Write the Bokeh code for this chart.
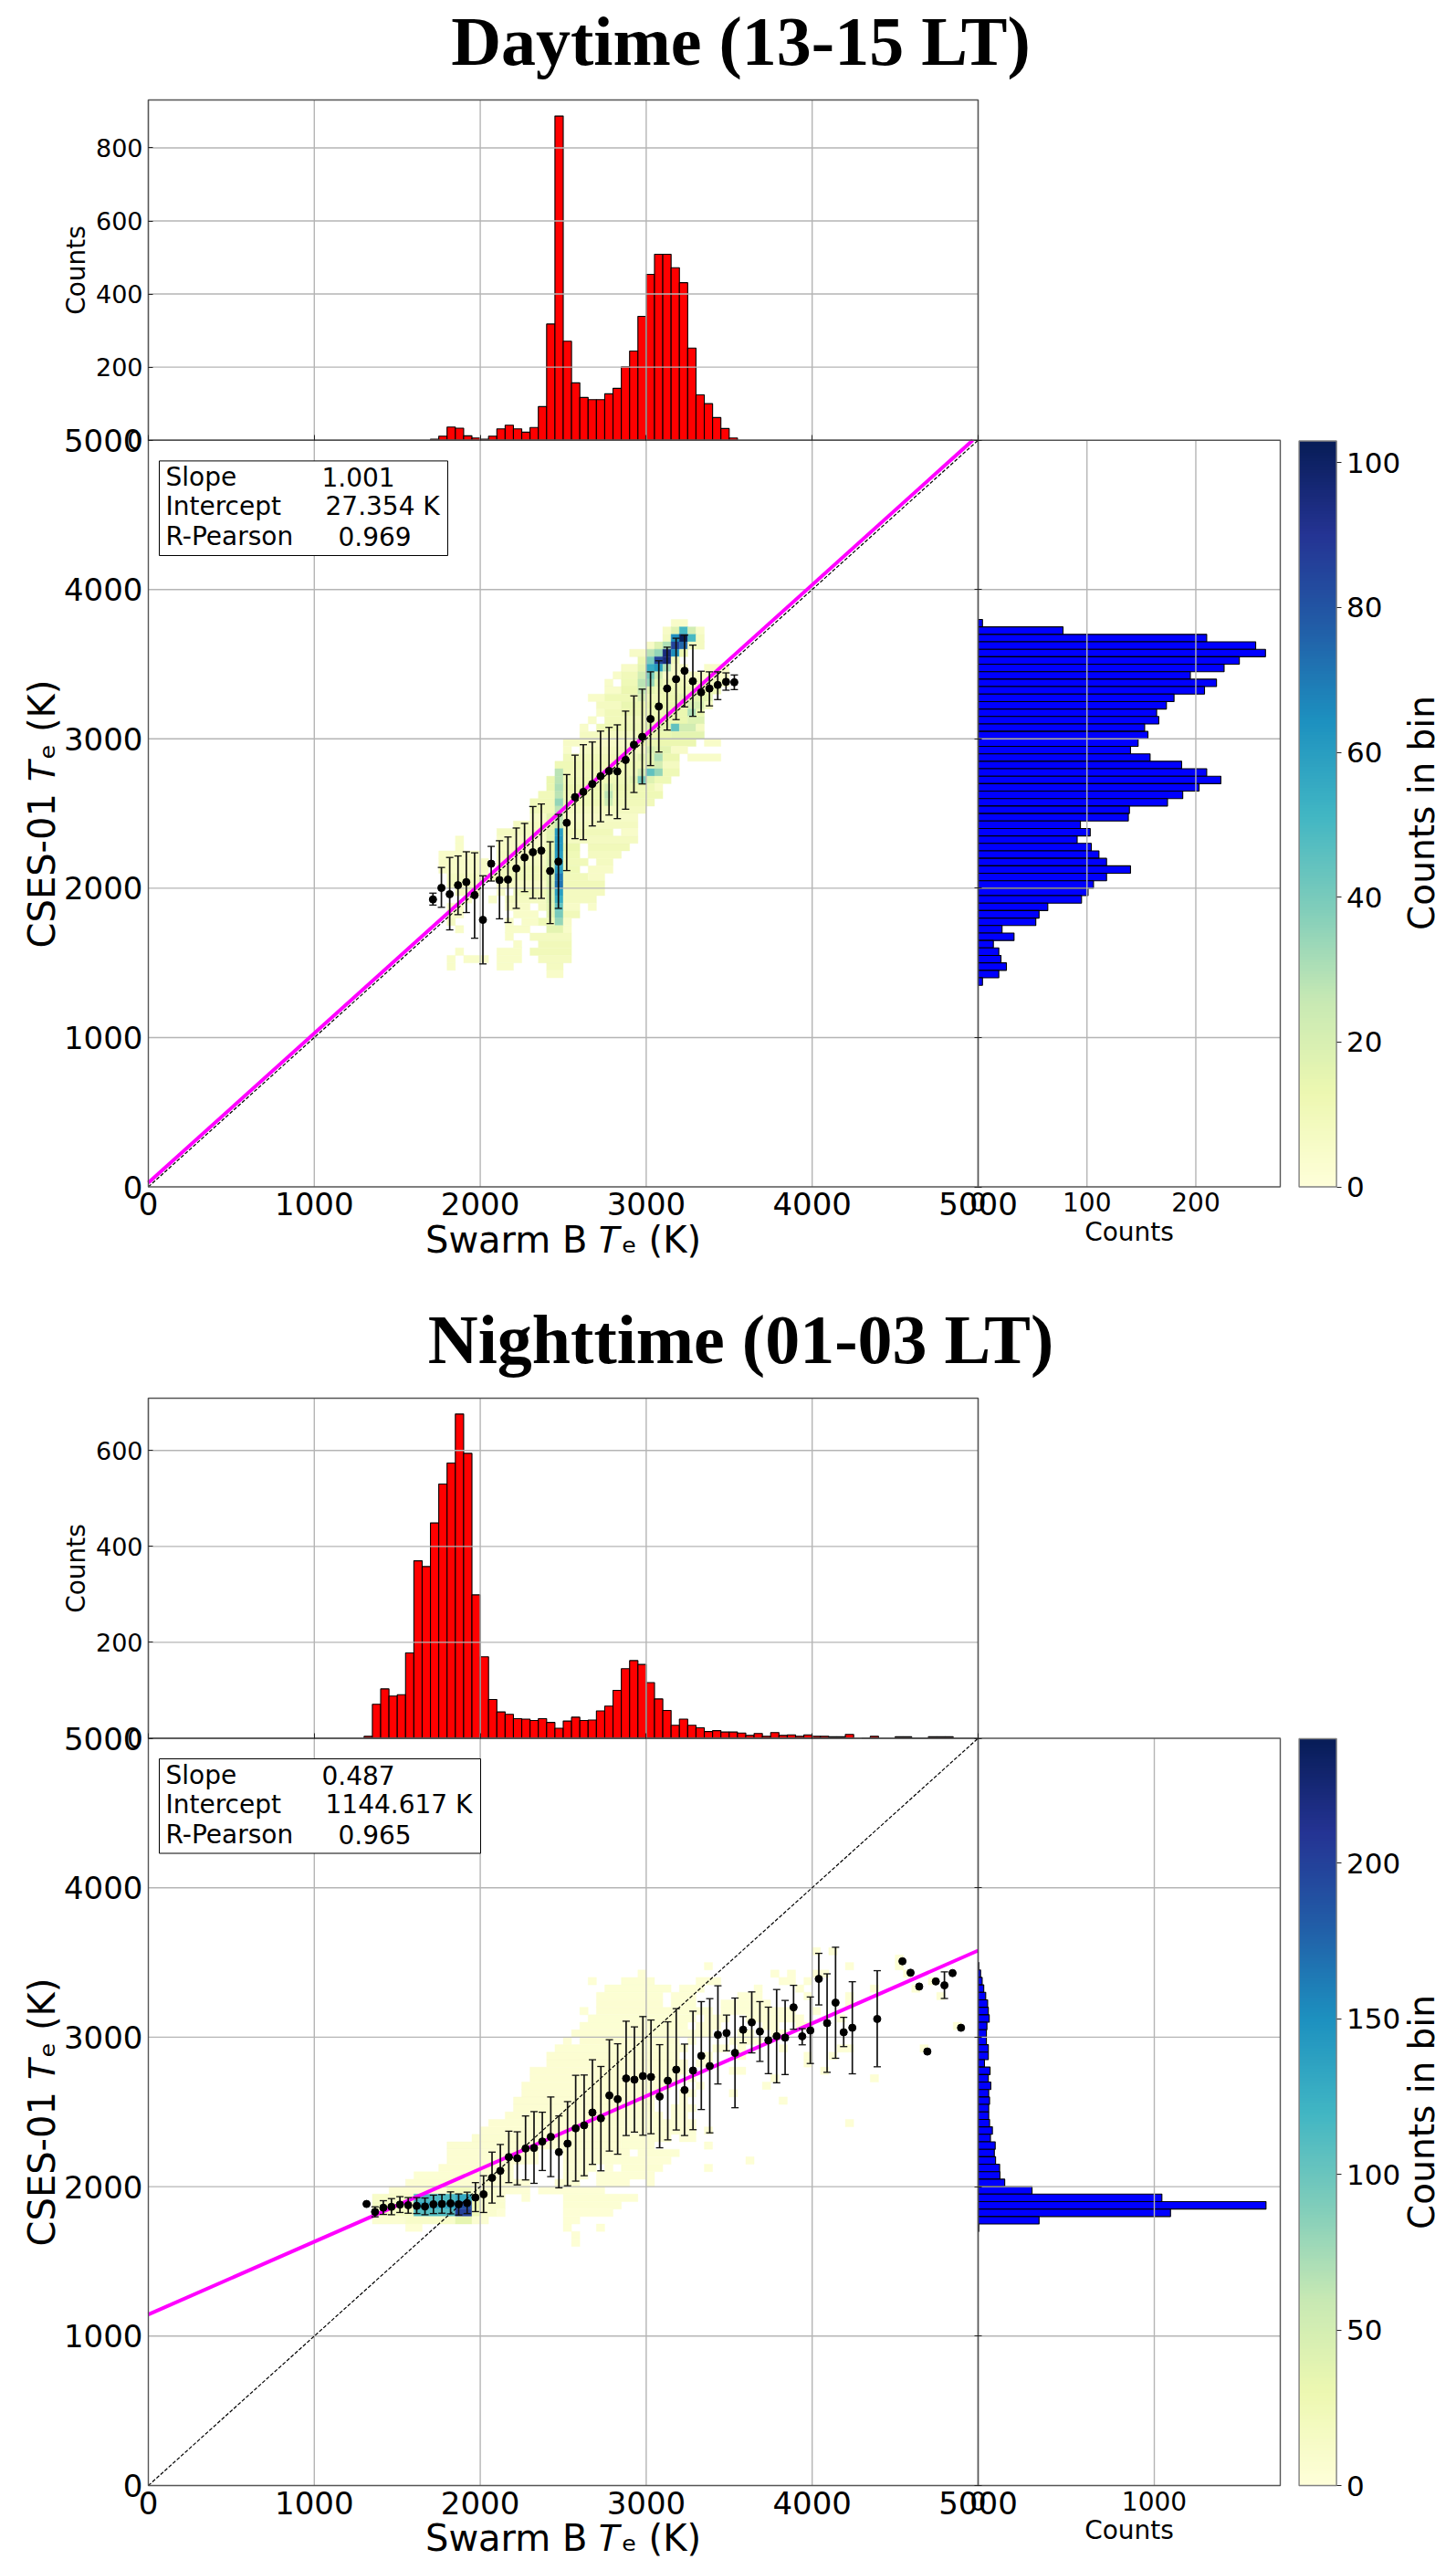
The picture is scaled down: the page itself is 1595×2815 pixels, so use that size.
from bokeh.embed import file_html
from bokeh.resources import INLINE
from bokeh.plotting import figure
from bokeh.core.properties import value
from bokeh.models import Range1d, LinearAxis, FixedTicker, ColorBar, LinearColorMapper, ColumnDataSource
from bokeh.palettes import YlGnBu9, interp_palette

# ---------- DATA ----------
day_top_edges = [1700,1750,1800,1850,1900,1950,2000,2050,2100,2150,2200,2250,2300,2350,2400,2450,2500,2550,2600,2650,2700,2750,2800,2850,2900,2950,3000,3050,3100,3150,3200,3250,3300,3350,3400,3450,3500]
day_top_counts = [3,11,36,33,12,6,3,11,31,41,31,22,35,92,318,887,271,157,117,111,111,127,142,201,244,339,454,509,509,472,431,252,124,100,62,32,6]
day_right_edges = [3750,3700,3650,3600,3550,3500,3450,3400,3350,3300,3250,3200,3150,3100,3050,3000,2950,2900,2850,2800,2750,2700,2650,2600,2550,2500,2450,2400,2350,2300,2250,2200,2150,2100,2050,2000,1950,1900,1850,1800,1750,1700,1650,1600,1550,1500,1450,1400,1350]
day_right_counts = [4,78,210,255,264,240,226,195,219,208,180,173,164,166,153,156,147,140,158,187,210,223,203,188,174,139,138,94,103,91,104,111,118,140,118,106,101,95,64,56,53,22,33,14,19,21,26,19,4]
night_top_edges = [1300,1350,1400,1450,1500,1550,1600,1650,1700,1750,1800,1850,1900,1950,2000,2050,2100,2150,2200,2250,2300,2350,2400,2450,2500,2550,2600,2650,2700,2750,2800,2850,2900,2950,3000,3050,3100,3150,3200,3250,3300,3350,3400,3450,3500,3550,3600,3650,3700,3750,3800,3850,3900,3950,4000,4050,4100,4150,4200,4300,4350,4500,4550,4600,4650,4700,4750,4800]
night_top_counts = [4,71,103,88,91,178,370,358,449,530,574,676,594,299,170,81,55,50,41,40,37,41,33,21,36,44,37,38,57,67,100,145,162,154,116,82,58,27,40,27,22,14,16,13,13,11,6,10,4,12,6,7,4,7,4,4,3,3,8,1,4,3,3,1,1,3,3,3]
night_right_edges = [3450,3400,3350,3300,3250,3200,3150,3100,3050,3000,2950,2900,2850,2800,2750,2700,2650,2600,2550,2500,2450,2400,2350,2300,2250,2200,2150,2100,2050,2000,1950,1900,1850,1800,1750,1700]
night_right_counts = [4,14,23,32,43,54,58,63,50,47,47,58,58,36,68,58,72,60,65,60,60,65,81,70,97,92,99,122,124,151,306,1043,1634,1092,346,4]

day_mean_x = [1715,1766,1816,1866,1916,1966,2016,2066,2116,2167,2217,2267,2317,2368,2421,2471,2521,2571,2621,2675,2725,2776,2826,2876,2926,2976,3026,3076,3126,3180,3231,3281,3331,3381,3431,3481,3531]
day_mean_y = [1925,2002,1960,2020,2041,1953,1788,2164,2055,2058,2132,2206,2241,2252,2115,2178,2438,2610,2645,2698,2750,2785,2782,2859,2961,3014,3133,3217,3337,3400,3456,3386,3312,3337,3361,3382,3379]
day_err_hi = [1967,2139,2206,2216,2244,2237,2083,2280,2318,2343,2403,2434,2547,2564,2311,2494,2761,2891,2961,2979,3052,3077,3094,3186,3288,3333,3449,3523,3614,3674,3695,3628,3453,3449,3449,3442,3428]
day_err_lo = [1887,1872,1721,1823,1837,1665,1493,2048,1795,1770,1865,1977,1932,1932,1763,1865,2118,2332,2325,2417,2445,2490,2466,2529,2641,2698,2821,2912,3059,3129,3214,3151,3179,3221,3263,3326,3330]

night_mean_x = [1315,1366,1416,1465,1516,1566,1617,1667,1718,1769,1821,1870,1921,1971,2020,2071,2121,2172,2223,2273,2324,2374,2425,2474,2526,2575,2626,2676,2727,2778,2828,2879,2929,2980,3029,3081,3130,3181,3231,3282,3332,3383,3432,3484,3535,3584,3636,3685,3736,3786,3837,3888,3940,3989,4040,4090,4141,4190,4242,4392,4544,4593,4645,4694,4745,4797,4846,4897]
night_mean_y = [1884,1831,1859,1865,1880,1876,1871,1867,1882,1884,1888,1882,1890,1927,1949,2059,2106,2198,2190,2255,2259,2302,2333,2231,2288,2390,2410,2496,2457,2610,2585,2724,2716,2740,2734,2603,2709,2783,2646,2777,2875,2807,3016,3028,2895,3050,3099,3038,2979,3007,2997,3200,3006,3045,3390,3094,3231,3033,3063,3122,3508,3431,3339,2904,3373,3347,3429,3063]
night_bar_x = [1366,1416,1465,1516,1566,1617,1667,1718,1769,1821,1870,1921,1971,2020,2071,2121,2172,2223,2273,2324,2374,2425,2474,2526,2575,2626,2676,2727,2778,2828,2879,2929,2980,3029,3081,3130,3181,3231,3282,3332,3383,3432,3484,3535,3584,3636,3685,3736,3786,3837,3888,3940,3989,4040,4090,4141,4190,4242,4392,4797]
night_err_hi = [1865,1906,1920,1933,1927,1927,1924,1943,1947,1965,1951,1963,2027,2073,2231,2282,2371,2367,2473,2502,2498,2600,2473,2569,2745,2747,2849,2804,2983,2956,3107,3069,3138,3115,2950,3103,3191,2954,3174,3238,3258,3344,3148,3262,3138,3303,3238,3201,3319,3246,3347,3057,3269,3561,3424,3602,3133,3371,3445,3437]
night_err_lo = [1798,1814,1812,1827,1822,1820,1812,1820,1822,1818,1810,1820,1833,1827,1890,1935,2027,2012,2045,2022,2108,2067,1992,2006,2037,2073,2149,2106,2238,2217,2342,2365,2344,2354,2260,2313,2379,2342,2381,2516,2360,2687,2909,2528,2962,2895,2838,2756,2695,2750,3053,2949,2824,3216,2765,2859,2937,2755,2802,3259]

# heat cells: (CSES bin, Swarm start, Swarm end, count)
day_heat = [
(3750,3150,3250,5),
(3700,3100,3150,6),(3700,3150,3200,18),(3700,3200,3250,50),(3700,3250,3300,22),(3700,3300,3350,5),
(3650,3100,3150,8),(3650,3150,3200,65),(3650,3200,3250,103),(3650,3250,3300,50),(3650,3300,3350,8),
(3600,3000,3050,6),(3600,3050,3100,18),(3600,3100,3150,30),(3600,3150,3200,85),(3600,3200,3250,75),(3600,3250,3350,8),
(3550,2900,3000,6),(3550,3000,3050,28),(3550,3050,3100,35),(3550,3100,3150,95),(3550,3150,3200,65),(3550,3200,3250,13),
(3500,2950,3000,13),(3500,3000,3050,40),(3500,3050,3100,85),(3500,3100,3150,95),(3500,3150,3200,10),
(3450,2850,2950,6),(3450,2950,3000,16),(3450,3000,3050,55),(3450,3050,3100,60),(3450,3100,3150,30),(3450,3150,3250,6),(3450,3350,3500,5),
(3400,2800,2850,5),(3400,2850,2950,10),(3400,2950,3000,22),(3400,3000,3050,40),(3400,3050,3100,22),(3400,3100,3350,6),(3400,3350,3500,6),
(3350,2750,2800,5),(3350,2850,2950,11),(3350,2950,3000,28),(3350,3000,3050,35),(3350,3050,3100,16),(3350,3100,3250,10),(3350,3250,3500,8),
(3300,2750,2850,5),(3300,2850,2950,13),(3300,2950,3000,26),(3300,3000,3050,16),(3300,3050,3200,11),(3300,3200,3450,11),
(3250,2650,2750,5),(3250,2750,2950,11),(3250,2950,3000,20),(3250,3000,3100,10),(3250,3100,3200,13),(3250,3200,3400,16),
(3200,2700,2850,8),(3200,2850,2950,14),(3200,2950,3050,13),(3200,3050,3250,14),(3200,3250,3350,20),(3200,3350,3400,8),
(3150,2700,2750,5),(3150,2750,2850,10),(3150,2850,3000,13),(3150,3000,3100,11),(3150,3100,3250,14),(3150,3250,3300,30),(3150,3300,3350,14),
(3100,2650,2700,5),(3100,2750,3000,10),(3100,3000,3250,14),(3100,3250,3350,18),
(3050,2600,2650,5),(3050,2700,3000,11),(3050,3000,3150,16),(3050,3150,3200,45),(3050,3200,3300,22),(3050,3300,3350,8),
(3000,2600,2950,8),(3000,2950,3150,13),(3000,3150,3350,16),
(2950,2500,2950,6),(2950,2950,3300,13),(2950,3350,3450,5),
(2900,2500,2550,5),(2900,2600,3000,8),(2900,3000,3050,20),(2900,3050,3150,16),(2900,3150,3250,6),
(2850,2500,2950,10),(2850,2950,3050,16),(2850,3050,3100,30),(2850,3100,3200,13),(2850,3250,3450,5),
(2800,2450,3000,11),(2800,3000,3050,16),(2800,3050,3100,22),(2800,3100,3200,8),
(2750,2450,2500,28),(2750,2500,2950,10),(2750,2950,3000,22),(2750,3000,3050,45),(2750,3050,3100,35),(2750,3100,3200,11),
(2700,2400,2450,13),(2700,2450,2500,28),(2700,2500,2900,11),(2700,2900,2950,16),(2700,2950,3000,40),(2700,3000,3050,18),(2700,3050,3150,11),
(2650,2400,2450,13),(2650,2450,2500,30),(2650,2500,2750,13),(2650,2750,2800,20),(2650,2800,2950,13),(2650,2950,3050,11),(2650,3050,3100,6),
(2600,2350,2450,10),(2600,2450,2500,28),(2600,2500,2750,11),(2600,2750,2800,28),(2600,2800,3100,11),
(2550,2300,2450,10),(2550,2450,2500,35),(2550,2500,2750,11),(2550,2750,2800,24),(2550,2800,3050,10),
(2500,2300,2450,10),(2500,2450,2500,28),(2500,2500,3000,8),
(2450,2300,2400,6),(2450,2400,2450,16),(2450,2450,2500,28),(2450,2500,2950,6),
(2400,2200,2400,8),(2400,2400,2450,16),(2400,2450,2500,26),(2400,2500,2950,8),
(2350,2100,2400,8),(2350,2400,2450,16),(2350,2450,2500,60),(2350,2500,2800,10),(2350,2850,2950,5),
(2300,1850,1900,5),(2300,2100,2400,6),(2300,2400,2450,16),(2300,2450,2500,62),(2300,2500,2950,8),
(2250,1850,1900,5),(2250,2100,2400,6),(2250,2400,2450,13),(2250,2450,2500,62),(2250,2500,2600,13),(2250,2650,2900,10),
(2200,1750,2000,5),(2200,2100,2400,8),(2200,2400,2450,16),(2200,2450,2500,60),(2200,2500,2600,11),(2200,2650,2850,8),
(2150,1750,2050,6),(2150,2100,2400,8),(2150,2400,2450,18),(2150,2450,2500,60),(2150,2500,2650,10),(2150,2700,2800,8),
(2100,1750,2050,6),(2100,2100,2400,10),(2100,2400,2450,18),(2100,2450,2500,60),(2100,2500,2600,11),(2100,2650,2800,6),
(2050,1800,2000,8),(2050,2000,2050,5),(2050,2050,2400,10),(2050,2400,2450,18),(2050,2450,2500,70),(2050,2500,2650,10),(2050,2650,2750,6),
(2000,1800,2000,8),(2000,2100,2400,6),(2000,2400,2450,18),(2000,2450,2500,72),(2000,2500,2750,10),
(1950,1850,2000,8),(1950,2100,2150,5),(1950,2200,2400,10),(1950,2400,2450,18),(1950,2450,2500,60),(1950,2500,2750,8),
(1900,1900,1950,5),(1900,2050,2100,5),(1900,2150,2400,8),(1900,2400,2450,18),(1900,2450,2500,55),(1900,2500,2700,8),
(1850,1800,1900,6),(1850,2150,2300,6),(1850,2350,2400,8),(1850,2400,2450,16),(1850,2450,2500,45),(1850,2500,2600,6),(1850,2650,2700,5),
(1800,1800,1900,5),(1800,2200,2350,5),(1800,2400,2450,16),(1800,2450,2500,40),(1800,2500,2600,10),
(1750,1800,1850,8),(1750,2150,2200,5),(1750,2250,2350,5),(1750,2350,2450,11),(1750,2450,2500,35),(1750,2500,2550,6),
(1700,1850,1900,5),(1700,2150,2300,5),(1700,2400,2500,16),(1700,2500,2550,5),
(1650,2150,2200,5),(1650,2300,2550,8),
(1600,2200,2250,5),(1600,2350,2550,10),
(1550,1850,1900,5),(1550,2100,2250,5),(1550,2300,2550,10),
(1500,1800,1850,5),(1500,1900,2050,5),(1500,2100,2250,5),(1500,2350,2550,8),
(1450,1800,1850,5),(1450,2100,2200,5),(1450,2400,2500,8),
(1400,2400,2500,5),
]

night_heat = [
(3550,4000,4050,3),(3550,4100,4150,3),
(3500,4500,4550,3),
(3450,3350,3400,3),(3450,4200,4250,3),(3450,4500,4550,3),
(3400,2950,3000,3),(3400,3750,3800,3),(3400,3850,3900,3),(3400,4000,4100,3),(3400,4550,4600,3),
(3350,2650,2700,3),(3350,2850,3050,4),(3350,3300,3450,3),(3350,3800,3900,3),(3350,3950,4000,3),(3350,4700,4750,3),
(3300,2750,3150,4),(3300,3200,3350,3),(3300,3650,3700,3),(3300,3900,3950,3),(3300,4350,4400,3),(3300,4600,4650,3),
(3250,2700,3100,4),(3250,3150,3300,3),(3250,3550,3700,3),(3250,3950,4000,3),(3250,4200,4250,3),(3250,4750,4800,3),
(3200,2700,3100,5),(3200,3150,3300,4),(3200,3450,3750,3),(3200,4200,4250,3),
(3150,2600,2650,3),(3150,2700,3150,5),(3150,3150,3400,4),(3150,3450,3900,3),(3150,4000,4050,3),
(3100,2650,3300,4),(3100,3350,3500,3),(3100,3600,3950,3),(3100,4150,4200,3),
(3050,2600,3250,4),(3050,3300,3450,3),(3050,3700,3800,3),(3050,3900,4000,3),(3050,4850,4900,3),
(3000,2550,3200,5),(3000,3200,3400,3),(3000,3550,3650,3),(3000,3750,3850,3),
(2950,2500,2550,3),(2950,2600,3200,5),(2950,3250,3300,3),(2950,3500,3700,3),
(2900,2450,3250,4),(2900,3400,3500,3),(2900,3550,3600,3),(2900,3800,3850,3),(2900,4150,4250,3),(2900,4650,4700,3),
(2850,2400,3200,5),(2850,3350,3400,3),(2850,3550,3600,3),(2850,3950,4000,3),(2850,4100,4150,3),
(2800,2400,3250,5),(2800,3300,3400,3),(2800,3950,4000,3),
(2750,2300,3250,5),(2750,3500,3600,3),(2750,4050,4100,3),
(2700,2300,3200,5),(2700,3250,3300,3),(2700,3750,3800,3),(2700,4350,4400,3),
(2650,2250,3150,5),(2650,3300,3350,3),(2650,3700,3750,3),
(2600,2250,3100,5),(2600,3200,3300,3),(2600,3500,3550,3),
(2550,2200,3050,5),(2550,3200,3250,3),(2550,3800,3850,3),
(2500,2200,3050,5),(2500,3150,3300,3),
(2450,2150,3000,5),(2450,3000,3100,3),(2450,3150,3250,3),
(2400,2050,3000,5),(2400,3000,3200,4),(2400,3200,3300,3),(2400,4200,4250,3),
(2350,2000,3050,5),(2350,3050,3300,4),(2350,3350,3400,3),
(2300,1950,2350,6),(2300,2350,2850,5),(2300,2850,3150,4),(2300,3200,3300,3),
(2250,1800,2350,6),(2250,2350,2500,3),(2250,2500,2850,5),(2250,2850,3050,4),(2250,3350,3400,3),
(2200,1800,2300,5),(2200,2300,2350,3),(2200,2500,2900,5),(2200,2950,3200,4),
(2150,1800,2250,5),(2150,2250,2350,3),(2150,2500,2750,5),(2150,2750,3000,4),(2150,3000,3150,3),(2150,3600,3650,3),
(2100,1750,2200,5),(2100,2500,2700,4),(2100,2750,2800,3),(2100,2850,3100,4),(2100,3350,3400,3),
(2050,1600,2200,4),(2050,2500,2650,4),(2050,2700,3050,3),
(2000,1550,2150,5),(2000,2150,2300,3),(2000,2450,2600,4),(2000,2700,2900,3),(2000,3000,3050,3),
(1950,1450,1800,5),(1950,1800,1950,20),(1950,1950,2100,8),(1950,2100,2300,3),(1950,2350,2750,3),
(1900,1350,1600,12),(1900,1600,1850,115),(1900,1850,1950,130),(1900,1950,2000,25),(1900,2000,2150,6),(1900,2250,2300,3),(1900,2500,2950,4),
(1850,1350,1600,15),(1850,1600,1850,130),(1850,1850,1950,190),(1850,1950,2000,30),(1850,2000,2150,8),(1850,2500,2850,4),
(1800,1350,1600,15),(1800,1600,1850,110),(1800,1850,1950,200),(1800,1950,2000,25),(1800,2000,2100,8),(1800,2100,2150,3),(1800,2500,2800,3),
(1750,1350,1550,6),(1750,1550,1850,12),(1750,1850,1950,35),(1750,1950,2050,6),(1750,2500,2600,3),
(1700,1550,1650,3),(1700,2500,2550,3),(1700,2700,2750,3),
(1650,2550,2600,3),
(1600,2550,2600,3),
]

day_title = "Daytime (13-15 LT)"
night_title = "Nighttime (01-03 LT)"
x_label = "Swarm B \U0001D447\u2091 (K)"
y_label = "CSES-01 \U0001D447\u2091 (K)"
counts_label = "Counts"
cbar_label = "Counts in bin"
te_ticks = [0, 1000, 2000, 3000, 4000, 5000]
stat_names = ["Slope", "Intercept", "R-Pearson"]
day_stats = ["1.001", "27.354 K", "0.969"]
night_stats = ["0.487", "1144.617 K", "0.965"]
day_fit = (1.001, 27.354)
night_fit = (0.487, 1144.617)
day_cfg = dict(title=day_title, top_e=day_top_edges, top_c=day_top_counts, right_e=day_right_edges, right_c=day_right_counts,
               mx=day_mean_x, my=day_mean_y, bx=day_mean_x, hi=day_err_hi, lo=day_err_lo, heat=day_heat, stats=day_stats, fit=day_fit,
               top_ticks=[0,200,400,600,800], right_ticks=[0,100,200], cb_ticks=[0,20,40,60,80,100],
               top_max=931, right_max=277.6, cb_max=103)
night_cfg = dict(title=night_title, top_e=night_top_edges, top_c=night_top_counts, right_e=night_right_edges, right_c=night_right_counts,
               mx=night_mean_x, my=night_mean_y, bx=night_bar_x, hi=night_err_hi, lo=night_err_lo, heat=night_heat, stats=night_stats, fit=night_fit,
               top_ticks=[0,200,400,600], right_ticks=[0,1000], cb_ticks=[0,50,100,150,200],
               top_max=709, right_max=1715, cb_max=240)

# ---------- LAYOUT ----------
PX_L, PX_M, PX_R = 162.0, 1071.0, 1402.0
CB_L, CB_R = 1422.6, 1464.0
W, H = 1595, 2815
palette = interp_palette(list(YlGnBu9)[::-1], 256)
GRID = "#b5b5b5"
SPINE = "#555555"
SANS = value("DejaVu Sans")

p = figure(width=W, height=H, output_backend="svg", toolbar_location=None,
           x_range=Range1d(0, W), y_range=Range1d(H, 0),
           x_axis_location=None, y_axis_location=None, min_border=0,
           outline_line_color=None, background_fill_color="white")
p.grid.visible = False

def xr(name, px0, px1, d0, d1):
    s = (d1 - d0) / (px1 - px0)
    p.extra_x_ranges[name] = Range1d(d0 - px0 * s, d0 + (W - px0) * s)

def yr(name, py_bottom, py_top, d0, d1):
    s = (d1 - d0) / (py_bottom - py_top)
    p.extra_y_ranges[name] = Range1d(d0 - (H - py_bottom) * s, d0 + py_bottom * s)

def axis(side, ticks, font, xn, yn, label=None, overrides=False, tin=0, tout=0, standoff=5, lab_standoff=8, lab_font=None, bounds=None):
    a = LinearAxis(x_range_name=xn, y_range_name=yn, fixed_location=0, ticker=FixedTicker(ticks=ticks),
                   bounds=bounds or (min(ticks), max(ticks)), major_tick_in=tin, major_tick_out=tout, minor_tick_line_color=None,
                   major_label_text_font="DejaVu Sans", major_label_text_font_size=font, major_label_text_color="black",
                   major_label_standoff=standoff, axis_line_color=None, major_tick_line_color="#222222",
                   major_label_orientation="horizontal")
    if overrides:
        a.major_label_overrides = {t: "" for t in ticks}
    if label:
        a.axis_label = label
        a.axis_label_text_font = "DejaVu Sans"
        a.axis_label_text_font_style = "normal"
        a.axis_label_text_font_size = lab_font
        a.axis_label_text_color = "black"
        a.axis_label_standoff = lab_standoff
    p.add_layout(a, side)

def panel(cfg, tag, top_t, top_b, main_t, main_b, title_base, stat_t, stat_b, stat_w, stat_ys, label_y):
    rn = dict(x_range_name=tag + "mx", y_range_name=tag + "my")
    tn = dict(x_range_name=tag + "mx", y_range_name=tag + "ty")
    sn = dict(x_range_name=tag + "rx", y_range_name=tag + "my")
    xr(tag + "mx", PX_L, PX_M, 0, 5000)
    xr(tag + "rx", PX_M, PX_R, 0, cfg["right_max"])
    yr(tag + "my", main_b, main_t, 0, 5000)
    yr(tag + "ty", top_b, top_t, 0, cfg["top_max"])

    p.text(x=[811], y=[title_base], text=[cfg["title"]], text_font=value("Liberation Serif"),
           text_font_style="bold", text_font_size="76px", text_align="center", text_baseline="alphabetic", text_color="black")

    h = cfg["heat"]
    mapper = LinearColorMapper(palette=palette, low=0, high=cfg["cb_max"])
    hs = ColumnDataSource(dict(l=[c[1] for c in h], r=[c[2] for c in h], b=[c[0] for c in h], t=[c[0] + 50 for c in h], v=[c[3] for c in h]))
    p.quad(left="l", right="r", bottom="b", top="t", source=hs,
           fill_color={"field": "v", "transform": mapper}, line_color={"field": "v", "transform": mapper}, line_width=0.4, **rn)

    p.quad(left=cfg["top_e"], right=[e + 50 for e in cfg["top_e"]], bottom=[0] * len(cfg["top_e"]), top=cfg["top_c"],
           fill_color="#ff0000", line_color="black", line_width=1.1, **tn)
    p.quad(bottom=cfg["right_e"], top=[e + 50 for e in cfg["right_e"]], left=[0] * len(cfg["right_e"]), right=cfg["right_c"],
           fill_color="#0000ff", line_color="black", line_width=1.1, **sn)

    gx = te_ticks[1:-1]
    gy = te_ticks[1:-1]
    p.segment(x0=gx, x1=gx, y0=[0] * len(gx), y1=[5000] * len(gx), line_color=GRID, line_width=1.4, **rn)
    p.segment(x0=[0] * len(gy), x1=[5000] * len(gy), y0=gy, y1=gy, line_color=GRID, line_width=1.4, **rn)
    p.segment(x0=gx, x1=gx, y0=[0] * len(gx), y1=[cfg["top_max"]] * len(gx), line_color=GRID, line_width=1.4, **tn)
    tt = cfg["top_ticks"][1:]
    p.segment(x0=[0] * len(tt), x1=[5000] * len(tt), y0=tt, y1=tt, line_color=GRID, line_width=1.4, **tn)
    rt = cfg["right_ticks"][1:]
    p.segment(x0=rt, x1=rt, y0=[0] * len(rt), y1=[5000] * len(rt), line_color=GRID, line_width=1.4, **sn)
    p.segment(x0=[0] * len(gy), x1=[cfg["right_max"]] * len(gy), y0=gy, y1=gy, line_color=GRID, line_width=1.4, **sn)

    p.line(x=[0, 5000], y=[0, 5000], line_color="black", line_width=1.2, line_dash=[4, 2], **rn)
    m, c = cfg["fit"]
    x_end = min(5000, (5000 - c) / m)
    p.line(x=[0, x_end], y=[c, m * x_end + c], line_color="#ff00ff", line_width=4, **rn)

    p.segment(x0=cfg["bx"], x1=cfg["bx"], y0=cfg["lo"], y1=cfg["hi"], line_color="#111111", line_width=1.7, **rn)
    p.scatter(x=cfg["bx"], y=cfg["hi"], marker="dash", size=8, line_color="#111111", line_width=1.3, **rn)
    p.scatter(x=cfg["bx"], y=cfg["lo"], marker="dash", size=8, line_color="#111111", line_width=1.3, **rn)
    p.scatter(x=cfg["mx"], y=cfg["my"], marker="circle", size=8, fill_color="black", line_color="black", **rn)

    p.quad(left=[174], right=[stat_w], top=[stat_t], bottom=[stat_b], fill_color="white", line_color="black", line_width=1)
    p.text(x=[181] * 3, y=stat_ys, text=stat_names, text_font=SANS, text_font_size="28px",
           text_baseline="middle", text_align="left", text_color="black")
    p.text(x=[352, 356, 370], y=stat_ys, text=cfg["stats"], text_font=SANS, text_font_size="28px",
           text_baseline="middle", text_align="left", text_color="black")

    p.quad(left=[0], right=[5000], bottom=[0], top=[cfg["top_max"]], fill_color=None, line_color=SPINE, line_width=1.6, **tn)
    p.quad(left=[0], right=[5000], bottom=[0], top=[5000], fill_color=None, line_color=SPINE, line_width=1.4, **rn)
    p.quad(left=[0], right=[cfg["right_max"]], bottom=[0], top=[5000], fill_color=None, line_color=SPINE, line_width=1.4, **sn)

    axis("below", te_ticks, "34px", tag + "mx", tag + "my", x_label, standoff=6, lab_standoff=0, lab_font="40px")
    axis("left", te_ticks, "34px", tag + "mx", tag + "my", y_label, standoff=6, lab_standoff=-2, lab_font="40px")
    axis("left", cfg["top_ticks"], "27px", tag + "mx", tag + "ty", counts_label, tin=5, standoff=6, lab_standoff=2, lab_font="28px", bounds=(0, cfg["top_max"]))
    axis("below", te_ticks, "27px", tag + "mx", tag + "ty", overrides=True, tin=6)
    axis("below", cfg["right_ticks"], "28px", tag + "rx", tag + "my", counts_label, standoff=6, lab_standoff=2, lab_font="28px", bounds=(0, cfg["right_max"]))
    axis("left", te_ticks, "27px", tag + "rx", tag + "my", overrides=True, tin=4, tout=4)

    cb = ColorBar(color_mapper=mapper, ticker=FixedTicker(ticks=cfg["cb_ticks"]), width=int(CB_R - CB_L), height=int(main_b - main_t),
                  location=(CB_L, H - main_b), padding=0, margin=0, background_fill_alpha=0, border_line_color=None,
                  bar_line_color="#808080", bar_line_width=1.4, major_tick_line_color="#222222", major_tick_in=0, major_tick_out=5,
                  label_standoff=6, major_label_text_font="DejaVu Sans", major_label_text_font_size="31px", major_label_text_color="black",
                  minor_tick_line_color=None)
    p.add_layout(cb, "center")
    p.text(x=[1557], y=[label_y], text=[cbar_label], text_font=SANS, text_font_size="39px", angle=1.5708,
           text_align="center", text_baseline="middle", text_color="black")


panel(day_cfg, "d", 109.0, 481.7, 481.7, 1299.5, 44, 504.4, 608, 490, [521.7, 553.8, 586.5], 890)
panel(night_cfg, "n", 1531.0, 1903.5, 1903.5, 2722.0, 1466, 1926, 2029.5, 526, [1943.8, 1975.9, 2008.5], 2313)

open("out.html", "w").write(file_html(p, INLINE))
